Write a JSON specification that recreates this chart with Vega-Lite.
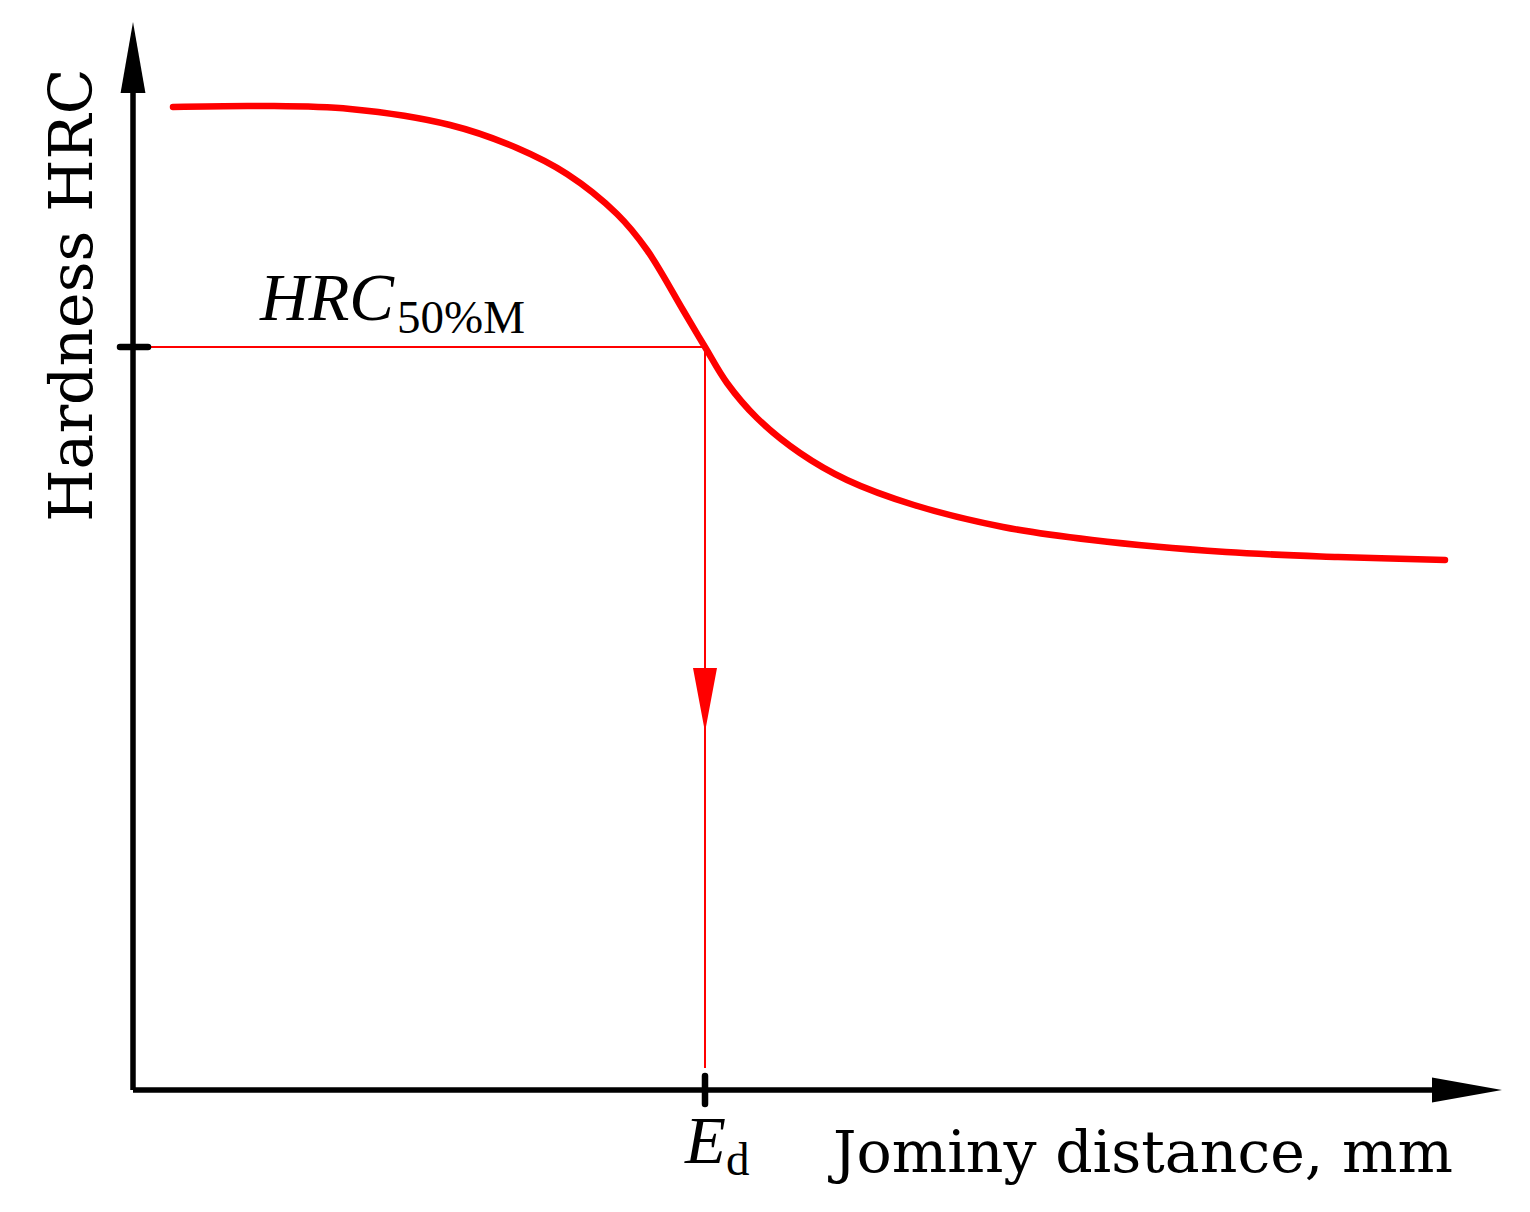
{
  "$schema": "https://vega.github.io/schema/vega-lite/v6.json",
  "width": 1530,
  "height": 1212,
  "autosize": {"type": "fit", "contains": "padding"},
  "padding": 0,
  "background": "white",
  "config": {"view": {"stroke": null}},
  "datasets": {
    "curve": [
      {"d": 4.0, "h": 98.3}, {"d": 12.7, "h": 98.4}, {"d": 21.7, "h": 98.1}, {"d": 31.7, "h": 96.5},
      {"d": 38.4, "h": 94.2}, {"d": 43.4, "h": 91.6}, {"d": 48.4, "h": 87.6}, {"d": 51.4, "h": 84.0},
      {"d": 55.0, "h": 78.0}, {"d": 57.2, "h": 74.3}, {"d": 59.4, "h": 70.7}, {"d": 62.4, "h": 67.2},
      {"d": 66.7, "h": 63.7}, {"d": 71.4, "h": 61.0}, {"d": 78.1, "h": 58.5}, {"d": 87.0, "h": 56.3},
      {"d": 95.9, "h": 55.0}, {"d": 109.3, "h": 53.8}, {"d": 120.5, "h": 53.3}, {"d": 131.2, "h": 53.0}
    ],
    "guides": [
      {"x": 1.7, "y": 74.3, "x2": 57.2, "y2": 74.3},
      {"x": 57.2, "y": 74.3, "x2": 57.2, "y2": 2.2}
    ],
    "axes": [
      {"x": 0, "y": 0, "x2": 0, "y2": 99.8},
      {"x": 0, "y": 0, "x2": 130.0, "y2": 0}
    ],
    "ticks": [
      {"x": -1.3, "y": 74.3, "x2": 1.5, "y2": 74.3},
      {"x": 57.2, "y": -1.4, "x2": 57.2, "y2": 1.4}
    ],
    "arrowDown": [{"x": 57.2, "y": 39.0}],
    "arrowUp": [{"x": 0, "y": 103.25}],
    "arrowRight": [{"x": 133.4, "y": 0}],
    "italicText": [
      {"x": 12.7, "y": 77.0, "t": "HRC"},
      {"x": 55.2, "y": -7.3, "t": "E"}
    ],
    "subText": [
      {"x": 26.4, "y": 75.7, "t": "50%M"},
      {"x": 59.3, "y": -8.5, "t": "d"}
    ],
    "xTitle": [{"x": 70.0, "y": -8.2, "t": "Jominy distance, mm"}],
    "yTitle": [{"x": -4.1, "y": 79.5, "t": "Hardness HRC"}]
  },
  "encoding": {
    "x": {"type": "quantitative", "scale": {"domain": [-13.3, 139.7], "nice": false, "zero": false}, "axis": null},
    "y": {"type": "quantitative", "scale": {"domain": [-12.2, 109.0], "nice": false, "zero": false}, "axis": null}
  },
  "layer": [
    {
      "data": {"name": "guides"},
      "mark": {"type": "rule", "color": "#ff0000", "strokeWidth": 2},
      "encoding": {"x": {"field": "x"}, "y": {"field": "y"}, "x2": {"field": "x2"}, "y2": {"field": "y2"}}
    },
    {
      "data": {"name": "curve"},
      "mark": {"type": "line", "color": "#ff0000", "strokeWidth": 6.5, "interpolate": "catmull-rom", "strokeCap": "round"},
      "encoding": {"x": {"field": "d"}, "y": {"field": "h"}}
    },
    {
      "data": {"name": "axes"},
      "mark": {"type": "rule", "color": "black", "strokeWidth": 5.5},
      "encoding": {"x": {"field": "x"}, "y": {"field": "y"}, "x2": {"field": "x2"}, "y2": {"field": "y2"}}
    },
    {
      "data": {"name": "ticks"},
      "mark": {"type": "rule", "color": "black", "strokeWidth": 6.5, "strokeCap": "round"},
      "encoding": {"x": {"field": "x"}, "y": {"field": "y"}, "x2": {"field": "x2"}, "y2": {"field": "y2"}}
    },
    {
      "data": {"name": "arrowDown"},
      "mark": {"type": "point", "filled": true, "color": "#ff0000", "opacity": 1, "size": 4096, "shape": "M-0.375,-1L0.375,-1L0,1Z"},
      "encoding": {"x": {"field": "x"}, "y": {"field": "y"}}
    },
    {
      "data": {"name": "arrowUp"},
      "mark": {"type": "point", "filled": true, "color": "black", "opacity": 1, "size": 5041, "shape": "M0,-1L0.35,1L-0.35,1Z"},
      "encoding": {"x": {"field": "x"}, "y": {"field": "y"}}
    },
    {
      "data": {"name": "arrowRight"},
      "mark": {"type": "point", "filled": true, "color": "black", "opacity": 1, "size": 4900, "shape": "M1,0L-1,-0.357L-1,0.357Z"},
      "encoding": {"x": {"field": "x"}, "y": {"field": "y"}}
    },
    {
      "data": {"name": "italicText"},
      "mark": {"type": "text", "font": "Liberation Serif", "fontStyle": "italic", "fontSize": 67, "align": "left", "baseline": "alphabetic", "color": "black"},
      "encoding": {"x": {"field": "x"}, "y": {"field": "y"}, "text": {"field": "t"}}
    },
    {
      "data": {"name": "subText"},
      "mark": {"type": "text", "font": "Liberation Serif", "fontSize": 47, "align": "left", "baseline": "alphabetic", "color": "black"},
      "encoding": {"x": {"field": "x"}, "y": {"field": "y"}, "text": {"field": "t"}}
    },
    {
      "data": {"name": "xTitle"},
      "mark": {"type": "text", "font": "DejaVu Serif", "fontSize": 58.5, "align": "left", "baseline": "alphabetic", "color": "black"},
      "encoding": {"x": {"field": "x"}, "y": {"field": "y"}, "text": {"field": "t"}}
    },
    {
      "data": {"name": "yTitle"},
      "mark": {"type": "text", "font": "DejaVu Serif", "fontSize": 60, "align": "center", "baseline": "alphabetic", "angle": 270, "color": "black"},
      "encoding": {"x": {"field": "x"}, "y": {"field": "y"}, "text": {"field": "t"}}
    }
  ]
}
